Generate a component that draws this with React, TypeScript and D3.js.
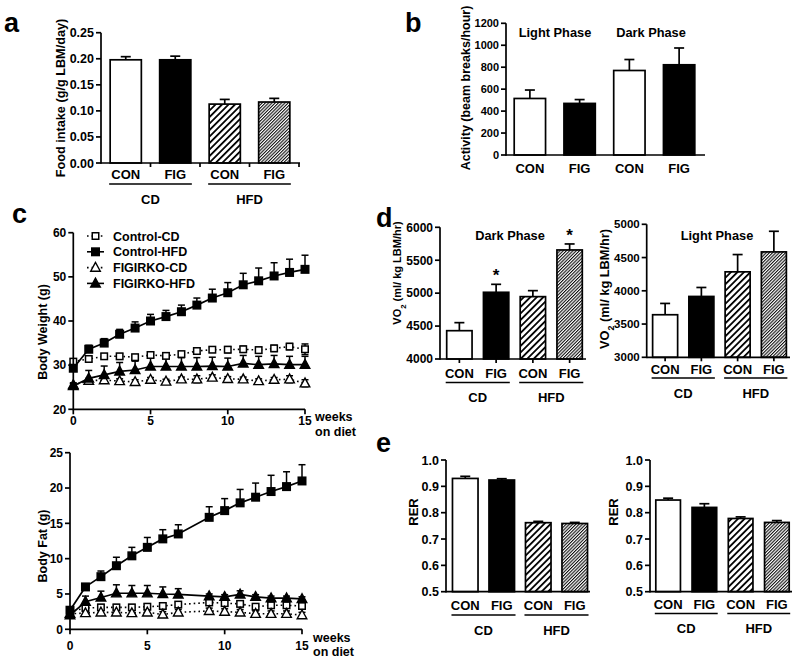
import React from "react";
import * as d3 from "d3";

const FONT = "'Liberation Sans', Arial, Helvetica, sans-serif";

// ---------------- data ----------------
const barLabels = ["CON", "FIG", "CON", "FIG"];
const dietLabels = ["CD", "HFD"];
const phaseLabels = ["Light Phase", "Dark Phase"];

// a: food intake
const foodIntake = [0.198, 0.198, 0.113, 0.117];
const foodIntakeErr = [0.006, 0.007, 0.009, 0.007];
const foodTicks = [0, 0.05, 0.1, 0.15, 0.2, 0.25];

// b: activity (light CON, light FIG, dark CON, dark FIG)
const activity = [515, 470, 770, 822];
const activityErr = [77, 35, 100, 153];
const activityTicks = [0, 200, 400, 600, 800, 1000, 1200];

// d: VO2
const vo2Dark = [4430, 5013, 4947, 5656];
const vo2DarkErr = [122, 121, 91, 91];
const vo2DarkTicks = [4000, 4500, 5000, 5500, 6000];
const vo2DarkStars = ["", "*", "", "*"];
const vo2Light = [3640, 3915, 4285, 4585];
const vo2LightErr = [170, 135, 260, 310];
const vo2LightTicks = [3000, 3500, 4000, 4500, 5000];

// e: RER
const rerLeft = [0.93, 0.924, 0.762, 0.759];
const rerLeftErr = [0.008, 0.005, 0.005, 0.004];
const rerRight = [0.848, 0.82, 0.778, 0.763];
const rerRightErr = [0.007, 0.014, 0.006, 0.007];
const rerTicks = [0.5, 0.6, 0.7, 0.8, 0.9, 1.0];

// c: body weight
const seriesNames = ["Control-CD", "Control-HFD", "FIGIRKO-CD", "FIGIRKO-HFD"];
const weeksBW = [0, 1, 2, 3, 4, 5, 6, 7, 8, 9, 10, 11, 12, 13, 14, 15];
const bwControlCD = [30.8, 31.4, 32.0, 32.0, 31.8, 32.3, 32.1, 32.5, 33.2, 33.5, 33.5, 33.6, 33.4, 33.8, 34.2, 33.6];
const bwControlCDErr = [0.6, 0.6, 0.6, 0.6, 0.6, 0.6, 0.6, 0.6, 0.6, 0.6, 0.7, 0.7, 0.7, 0.7, 0.7, 1.2];
const bwControlHFD = [29.3, 33.6, 35.0, 37.0, 38.4, 40.0, 41.0, 42.1, 43.6, 45.2, 46.4, 48.2, 49.1, 50.2, 51.0, 51.7];
const bwControlHFDErr = [1.0, 0.9, 1.0, 1.1, 1.4, 1.5, 1.4, 1.5, 1.6, 2.0, 2.3, 2.6, 2.9, 3.0, 3.0, 3.2];
const bwFigCD = [25.5, 26.5, 26.6, 26.4, 26.2, 26.7, 26.3, 26.8, 26.8, 27.2, 26.9, 26.8, 26.4, 26.7, 26.8, 25.9];
const bwFigCDErr = [0.5, 0.5, 0.5, 0.5, 0.5, 0.5, 0.5, 0.5, 0.8, 0.6, 0.5, 0.5, 0.5, 0.5, 0.8, 0.8];
const bwFigHFD = [25.3, 27.0, 27.8, 28.6, 28.9, 29.7, 29.7, 29.7, 29.7, 29.8, 29.7, 30.4, 30.1, 30.3, 30.1, 30.1];
const bwFigHFDErr = [0.5, 1.8, 2.0, 2.0, 2.0, 2.0, 2.0, 2.0, 2.0, 2.0, 1.9, 1.8, 1.9, 1.9, 1.9, 1.9];
const bwYTicks = [20, 30, 40, 50, 60];

// c: body fat (week 8 not measured)
const weeksBF = [0, 1, 2, 3, 4, 5, 6, 7, 9, 10, 11, 12, 13, 14, 15];
const bfControlCD = [2.5, 3.0, 3.1, 3.1, 3.1, 3.2, 3.3, 3.5, 3.8, 3.7, 3.6, 3.2, 3.4, 3.4, 3.3];
const bfControlCDErr = [0.4, 0.4, 0.4, 0.4, 0.4, 0.4, 0.4, 0.4, 0.4, 0.4, 0.4, 0.4, 0.4, 0.4, 0.4];
const bfControlHFD = [2.7, 6.0, 7.45, 9.0, 10.4, 11.6, 12.8, 13.5, 15.85, 16.8, 17.9, 18.7, 19.5, 20.2, 21.0];
const bfControlHFDErr = [0.4, 0.4, 0.8, 1.2, 1.2, 1.4, 1.3, 1.3, 1.5, 1.7, 1.9, 2.0, 2.3, 2.1, 2.3];
const bfFigCD = [2.2, 2.3, 2.4, 2.4, 2.3, 2.4, 2.1, 2.4, 2.6, 2.5, 2.4, 2.2, 2.2, 2.2, 2.0];
const bfFigCDErr = [0.4, 0.4, 0.4, 0.4, 0.4, 0.4, 0.4, 0.4, 0.4, 0.4, 0.4, 0.4, 0.4, 0.4, 0.4];
const bfFigHFD = [2.0, 3.9, 4.5, 5.1, 5.1, 5.1, 5.0, 4.95, 4.7, 4.6, 4.95, 4.6, 4.4, 4.4, 4.3];
const bfFigHFDErr = [0.3, 0.8, 0.9, 1.2, 1.1, 1.1, 1.0, 0.8, 0.3, 0.3, 0.5, 0.3, 0.3, 0.3, 0.3];
const bfYTicks = [0, 5, 10, 15, 20, 25];
const weekTicks = [0, 5, 10, 15];

// ---------------- styles ----------------
const dietFills = ["#fff", "#000", "url(#hatchWide)", "url(#hatchDense)"];
const phaseFills = ["#fff", "#000", "#fff", "#000"];
const SW = 1.7;

type BarProps = {
  values: number[];
  errs: number[];
  labels: string[];
  fills: string[];
  range: [number, number];
  pad: number;
  axisX: number;
  axisEnd: number;
  domain: [number, number];
  yr: [number, number];
  ticks: number[];
  fmt: (n: number) => string;
  labelY: number;
  underlineY?: number;
  dietY?: number;
  yLabel: React.ReactNode;
  yLabelX: number;
  yLabelY: number;
  yLabelSize?: number;
  xTickMode?: "between" | "center" | "none";
  stars?: string[];
  cap?: number;
  tickSize?: number;
};

function BarPanel(p: BarProps) {
  const idx = d3.range(p.values.length);
  const x = d3
    .scaleBand<number>()
    .domain(idx)
    .range(p.range)
    .paddingInner(p.pad)
    .paddingOuter(p.pad / 2);
  const y = d3.scaleLinear().domain(p.domain).range(p.yr);
  const bw = x.bandwidth();
  const y0 = p.yr[0];
  const cap = p.cap ?? 5;
  const ts = p.tickSize ?? 12;
  const xTicks: number[] = [];
  if (p.xTickMode === "between") {
    for (let i = 1; i < idx.length; i++) xTicks.push((x(i - 1)! + bw + x(i)!) / 2);
    xTicks.push(p.axisEnd - 1);
  } else if (p.xTickMode === "center") {
    idx.forEach((i) => xTicks.push(x(i)! + bw / 2));
  }
  return (
    <g>
      {p.values.map((v, i) => {
        const xi = x(i)!;
        const top = y(v);
        const et = y(v + p.errs[i]);
        const cx = xi + bw / 2;
        return (
          <g key={i}>
            <line x1={cx} x2={cx} y1={top} y2={et} stroke="#000" strokeWidth={SW} />
            <line x1={cx - cap} x2={cx + cap} y1={et} y2={et} stroke="#000" strokeWidth={SW} />
            <rect x={xi} y={top} width={bw} height={y0 - top} fill={p.fills[i]} stroke="#000" strokeWidth={SW} />
            {p.stars && p.stars[i] ? (
              <text x={cx} y={et - 3} textAnchor="middle" fontSize={17} fontWeight="bold">
                {p.stars[i]}
              </text>
            ) : null}
          </g>
        );
      })}
      <line x1={p.axisX} x2={p.axisX} y1={y0 + SW / 2} y2={p.yr[1]} stroke="#000" strokeWidth={SW} />
      <line x1={p.axisX} x2={p.axisEnd} y1={y0} y2={y0} stroke="#000" strokeWidth={SW} />
      {xTicks.map((t, i) => (
        <line key={i} x1={t} x2={t} y1={y0} y2={y0 + 4} stroke="#000" strokeWidth={SW} />
      ))}
      {p.ticks.map((t, i) => (
        <g key={i}>
          <line x1={p.axisX - 5} x2={p.axisX} y1={y(t)} y2={y(t)} stroke="#000" strokeWidth={SW} />
          <text x={p.axisX - 7} y={y(t)} dy="0.36em" textAnchor="end" fontSize={ts} fontWeight="bold">
            {p.fmt(t)}
          </text>
        </g>
      ))}
      {p.labels.map((l, i) => (
        <text key={i} x={x(i)! + bw / 2} y={p.labelY} textAnchor="middle" fontSize={13} fontWeight="bold">
          {l}
        </text>
      ))}
      {p.underlineY !== undefined &&
        dietLabels.map((d, g) => {
          const x1 = x(g * 2)! - 1;
          const x2 = x(g * 2 + 1)! + bw + 1;
          return (
            <g key={g}>
              <line x1={x1} x2={x2} y1={p.underlineY} y2={p.underlineY} stroke="#000" strokeWidth={1.4} />
              <text x={(x1 + x2) / 2} y={p.dietY} textAnchor="middle" fontSize={13} fontWeight="bold">
                {d}
              </text>
            </g>
          );
        })}
      <text
        transform={`translate(${p.yLabelX},${p.yLabelY}) rotate(-90)`}
        dy="0.36em"
        textAnchor="middle"
        fontSize={p.yLabelSize ?? 12.5}
        fontWeight="bold"
      >
        {p.yLabel}
      </text>
    </g>
  );
}

type Series = {
  values: number[];
  errs: number[];
  shape: "sq" | "tri";
  filled: boolean;
  dotted: boolean;
};

function Marker({ cx, cy, shape, filled }: { cx: number; cy: number; shape: "sq" | "tri"; filled: boolean }) {
  const fill = filled ? "#000" : "#fff";
  if (shape === "sq") {
    const s = filled ? 7.5 : 6.5;
    return <rect x={cx - s / 2} y={cy - s / 2} width={s} height={s} fill={fill} stroke="#000" strokeWidth={1.5} />;
  }
  const pts = `${cx},${cy - 5.2} ${cx - 4.8},${cy + 3.6} ${cx + 4.8},${cy + 3.6}`;
  return <polygon points={pts} fill={fill} stroke="#000" strokeWidth={1.4} strokeLinejoin="miter" />;
}

type LineProps = {
  weeks: number[];
  series: Series[];
  xr: [number, number];
  yd: [number, number];
  yr: [number, number];
  yTicks: number[];
  yLabel: string;
  yLabelX: number;
  yLabelY: number;
  tickLabelY: number;
  weeksY: number;
  dietY: number;
  weeksX: number;
  legend?: boolean;
};

function LinePanel(p: LineProps) {
  const x = d3.scaleLinear().domain([0, 15]).range(p.xr);
  const y = d3.scaleLinear().domain(p.yd).range(p.yr);
  const line = d3
    .line<number>()
    .x((_, i) => x(p.weeks[i]))
    .y((d) => y(d));
  const y0 = p.yr[0];
  const order = [0, 2, 3, 1];
  return (
    <g>
      {order.map((si) => {
        const s = p.series[si];
        return (
          <path
            key={"l" + si}
            d={line(s.values) || ""}
            fill="none"
            stroke="#000"
            strokeWidth={s.dotted ? 1.6 : 1.7}
            strokeDasharray={s.dotted ? "1.6 3" : undefined}
          />
        );
      })}
      {order.map((si) => {
        const s = p.series[si];
        return (
          <g key={"e" + si}>
            {s.values.map((v, i) => {
              const cx = x(p.weeks[i]);
              const up = y(v + s.errs[i]);
              const dn = s.dotted ? y(v - s.errs[i]) : y(v);
              return (
                <g key={i}>
                  <line x1={cx} x2={cx} y1={dn} y2={up} stroke="#000" strokeWidth={1.5} />
                  <line x1={cx - 3.5} x2={cx + 3.5} y1={up} y2={up} stroke="#000" strokeWidth={1.5} />
                  {s.dotted ? (
                    <line x1={cx - 3.5} x2={cx + 3.5} y1={dn} y2={dn} stroke="#000" strokeWidth={1.5} />
                  ) : null}
                </g>
              );
            })}
          </g>
        );
      })}
      {order.map((si) => {
        const s = p.series[si];
        return (
          <g key={"m" + si}>
            {s.values.map((v, i) => (
              <Marker key={i} cx={x(p.weeks[i])} cy={y(v)} shape={s.shape} filled={s.filled} />
            ))}
          </g>
        );
      })}
      <line x1={p.xr[0]} x2={p.xr[0]} y1={y0 + 0.9} y2={p.yr[1]} stroke="#000" strokeWidth={SW} />
      <line x1={p.xr[0]} x2={p.xr[1]} y1={y0} y2={y0} stroke="#000" strokeWidth={SW} />
      {p.yTicks.map((t, i) => (
        <g key={i}>
          <line x1={p.xr[0] - 5} x2={p.xr[0]} y1={y(t)} y2={y(t)} stroke="#000" strokeWidth={SW} />
          <text x={p.xr[0] - 7} y={y(t)} dy="0.36em" textAnchor="end" fontSize={12} fontWeight="bold">
            {t}
          </text>
        </g>
      ))}
      {weekTicks.map((t, i) => (
        <g key={i}>
          <line x1={x(t)} x2={x(t)} y1={y0} y2={y0 + 5} stroke="#000" strokeWidth={SW} />
          <text x={x(t)} y={p.tickLabelY} textAnchor="middle" fontSize={12} fontWeight="bold">
            {t}
          </text>
        </g>
      ))}
      <text x={p.weeksX} y={p.weeksY} fontSize={12.5} fontWeight="bold">
        weeks
      </text>
      <text x={p.weeksX} y={p.dietY} fontSize={12.5} fontWeight="bold">
        on diet
      </text>
      <text
        transform={`translate(${p.yLabelX},${p.yLabelY}) rotate(-90)`}
        dy="0.36em"
        textAnchor="middle"
        fontSize={12.5}
        fontWeight="bold"
      >
        {p.yLabel}
      </text>
      {p.legend &&
        seriesNames.map((n, i) => {
          const s = p.series[i];
          const ly = 236 + i * 15.8;
          return (
            <g key={n}>
              <line
                x1={87}
                x2={104}
                y1={ly}
                y2={ly}
                stroke="#000"
                strokeWidth={1.6}
                strokeDasharray={s.dotted ? "1.6 3" : undefined}
              />
              <Marker cx={95.5} cy={ly} shape={s.shape} filled={s.filled} />
              <text x={113} y={ly} dy="0.36em" fontSize={12.5} fontWeight="bold">
                {n}
              </text>
            </g>
          );
        })}
    </g>
  );
}

const VO2Label = (
  <>
    VO<tspan baselineShift="sub" fontSize="70%">2</tspan>
    <tspan> (ml/ kg LBM/hr)</tspan>
  </>
);

export default function App() {
  const bwSeries: Series[] = [
    { values: bwControlCD, errs: bwControlCDErr, shape: "sq", filled: false, dotted: true },
    { values: bwControlHFD, errs: bwControlHFDErr, shape: "sq", filled: true, dotted: false },
    { values: bwFigCD, errs: bwFigCDErr, shape: "tri", filled: false, dotted: true },
    { values: bwFigHFD, errs: bwFigHFDErr, shape: "tri", filled: true, dotted: false },
  ];
  const bfSeries: Series[] = [
    { values: bfControlCD, errs: bfControlCDErr, shape: "sq", filled: false, dotted: true },
    { values: bfControlHFD, errs: bfControlHFDErr, shape: "sq", filled: true, dotted: false },
    { values: bfFigCD, errs: bfFigCDErr, shape: "tri", filled: false, dotted: true },
    { values: bfFigHFD, errs: bfFigHFDErr, shape: "tri", filled: true, dotted: false },
  ];
  const f2 = d3.format(".2f");
  const f1 = d3.format(".1f");
  const fi = (n: number) => String(n);
  return (
    <svg
      width={800}
      height={661}
      viewBox="0 0 800 661"
      style={{ position: "absolute", left: 0, top: 0, background: "#fff" }}
      fontFamily={FONT}
    >
      <defs>
        <pattern id="hatchWide" patternUnits="userSpaceOnUse" width={4.6} height={4.6} patternTransform="rotate(45)">
          <rect width={4.6} height={4.6} fill="#fff" />
          <line x1={0} y1={0} x2={0} y2={4.6} stroke="#000" strokeWidth={3.6} />
        </pattern>
        <pattern id="hatchDense" patternUnits="userSpaceOnUse" width={2.3} height={2.3} patternTransform="rotate(45)">
          <rect width={2.3} height={2.3} fill="#fff" />
          <line x1={0} y1={0} x2={0} y2={2.3} stroke="#111" strokeWidth={2.2} />
        </pattern>
      </defs>
      <rect width={800} height={661} fill="#fff" />

      {/* panel letters */}
      <text x={4} y={32} fontSize={27} fontWeight="bold">a</text>
      <text x={405} y={32} fontSize={27} fontWeight="bold">b</text>
      <text x={12} y={223} fontSize={27} fontWeight="bold">c</text>
      <text x={376} y={227} fontSize={27} fontWeight="bold">d</text>
      <text x={376} y={452} fontSize={27} fontWeight="bold">e</text>

      {/* a */}
      <BarPanel
        values={foodIntake}
        errs={foodIntakeErr}
        labels={barLabels}
        fills={dietFills}
        range={[101, 299]}
        pad={0.37}
        axisX={101}
        axisEnd={300}
        domain={[0, 0.25]}
        yr={[163, 32.7]}
        ticks={foodTicks}
        fmt={f2}
        labelY={179}
        underlineY={184}
        dietY={204}
        yLabel="Food intake (g/g LBM/day)"
        yLabelX={60}
        yLabelY={98}
        yLabelSize={12.7}
        xTickMode="between"
        cap={5}
        tickSize={12.5}
      />

      {/* b */}
      <BarPanel
        values={activity}
        errs={activityErr}
        labels={barLabels}
        fills={phaseFills}
        range={[505, 704]}
        pad={0.37}
        axisX={506}
        axisEnd={705}
        domain={[0, 1200]}
        yr={[155, 23.3]}
        ticks={activityTicks}
        fmt={fi}
        labelY={173}
        yLabel="Activity (beam breaks/hour)"
        yLabelX={465}
        yLabelY={88}
        xTickMode="none"
        cap={5}
        tickSize={11}
      />
      <text x={555} y={37} textAnchor="middle" fontSize={12.8} fontWeight="bold">{phaseLabels[0]}</text>
      <text x={651} y={37} textAnchor="middle" fontSize={12.8} fontWeight="bold">{phaseLabels[1]}</text>

      {/* c */}
      <LinePanel
        weeks={weeksBW}
        series={bwSeries}
        xr={[73.3, 305]}
        yd={[20, 60]}
        yr={[409.3, 232.7]}
        yTicks={bwYTicks}
        yLabel="Body Weight (g)"
        yLabelX={42}
        yLabelY={332}
        tickLabelY={425}
        weeksY={421}
        dietY={436}
        weeksX={315}
        legend
      />
      <LinePanel
        weeks={weeksBF}
        series={bfSeries}
        xr={[70, 302]}
        yd={[0, 25]}
        yr={[629.3, 452.7]}
        yTicks={bfYTicks}
        yLabel="Body Fat (g)"
        yLabelX={42}
        yLabelY={546}
        tickLabelY={650}
        weeksY={642}
        dietY={656}
        weeksX={313}
      />

      {/* d */}
      <BarPanel
        values={vo2Dark}
        errs={vo2DarkErr}
        labels={barLabels}
        fills={dietFills}
        range={[441, 588]}
        pad={0.31}
        axisX={440}
        axisEnd={586}
        domain={[4000, 6000]}
        yr={[359, 227.3]}
        ticks={vo2DarkTicks}
        fmt={fi}
        labelY={378}
        underlineY={382.5}
        dietY={402}
        yLabel={VO2Label}
        yLabelX={397}
        yLabelY={273}
        yLabelSize={11}
        xTickMode="center"
        cap={5}
        tickSize={12}
        stars={vo2DarkStars}
      />
      <text x={510} y={240} textAnchor="middle" fontSize={12.8} fontWeight="bold">{phaseLabels[1]}</text>
      <BarPanel
        values={vo2Light}
        errs={vo2LightErr}
        labels={barLabels}
        fills={dietFills}
        range={[647, 792]}
        pad={0.31}
        axisX={646.7}
        axisEnd={790}
        domain={[3000, 5000]}
        yr={[357.3, 224.3]}
        ticks={vo2LightTicks}
        fmt={fi}
        labelY={374}
        underlineY={378}
        dietY={398}
        yLabel={VO2Label}
        yLabelX={604}
        yLabelY={289}
        yLabelSize={12.8}
        xTickMode="center"
        cap={5}
        tickSize={11.5}
      />
      <text x={717} y={240} textAnchor="middle" fontSize={12.8} fontWeight="bold">{phaseLabels[0]}</text>

      {/* e */}
      <BarPanel
        values={rerLeft}
        errs={rerLeftErr}
        labels={barLabels}
        fills={dietFills}
        range={[447, 593]}
        pad={0.3}
        axisX={446}
        axisEnd={590}
        domain={[0.5, 1.0]}
        yr={[591.7, 460]}
        ticks={rerTicks}
        fmt={f1}
        labelY={610}
        underlineY={615}
        dietY={635}
        yLabel="RER"
        yLabelX={413}
        yLabelY={512}
        yLabelSize={13}
        xTickMode="none"
        cap={5}
        tickSize={12.5}
      />
      <BarPanel
        values={rerRight}
        errs={rerRightErr}
        labels={barLabels}
        fills={dietFills}
        range={[650, 795]}
        pad={0.32}
        axisX={650}
        axisEnd={792}
        domain={[0.5, 1.0]}
        yr={[591.7, 460]}
        ticks={rerTicks}
        fmt={f1}
        labelY={609}
        underlineY={613.5}
        dietY={633}
        yLabel="RER"
        yLabelX={613}
        yLabelY={512}
        yLabelSize={13}
        xTickMode="none"
        cap={5}
        tickSize={12.5}
      />
    </svg>
  );
}
